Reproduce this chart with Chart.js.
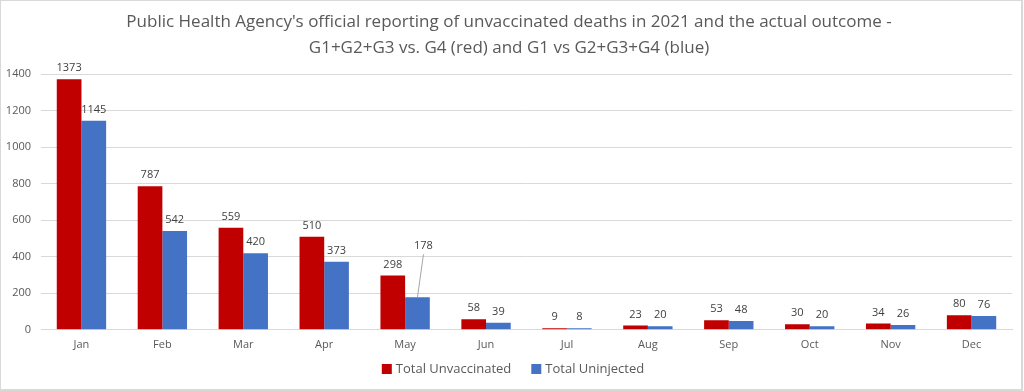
<!DOCTYPE html>
<html>
<head>
<meta charset="utf-8">
<script src="https://cdn.jsdelivr.net/npm/chart.js@4"></script>
<style>
  html, body { margin: 0; padding: 0; background: #fff; }
  #wrap { position: relative; width: 1024px; height: 391px; }
  canvas { display: block; }
</style>
</head>
<body>
<div id="wrap"><canvas id="c" width="1024" height="391"></canvas></div>
<script>
const months = ["Jan","Feb","Mar","Apr","May","Jun","Jul","Aug","Sep","Oct","Nov","Dec"];
const unvaccinated = [1373, 787, 559, 510, 298, 58, 9, 23, 53, 30, 34, 80];
const uninjected = [1145, 542, 420, 373, 178, 39, 8, 20, 48, 20, 26, 76];
const yTicks = [0, 200, 400, 600, 800, 1000, 1200, 1400];
const titleLines = [
  "Public Health Agency's official reporting of unvaccinated deaths in 2021 and the actual outcome -",
  "G1+G2+G3 vs. G4 (red) and G1 vs G2+G3+G4 (blue)"
];

const FONT = "'Open Sans', 'Liberation Sans', sans-serif";

const frame = {
  id: 'frame',
  afterDraw(chart) {
    const ctx = chart.ctx;
    ctx.save();
    ctx.strokeStyle = '#d9d9d9';
    ctx.lineWidth = 2;
    ctx.strokeRect(0, 0, 1022, 390);
    ctx.restore();
  }
};

const bottomLegend = {
  id: 'bottomLegend',
  afterDraw(chart, args, opts) {
    const ctx = chart.ctx;
    ctx.save();
    ctx.font = '13px ' + FONT;
    ctx.textBaseline = 'middle';
    ctx.textAlign = 'left';
    const items = chart.data.datasets.map(ds => ({ text: ds.label, color: ds.backgroundColor,
      w: 10 + 4 + ctx.measureText(ds.label).width }));
    const gap = 20;
    const total = items.reduce((s, it) => s + it.w, 0) + gap * (items.length - 1);
    let x = opts.centerX - total / 2;
    const y = opts.y;
    items.forEach(it => {
      ctx.fillStyle = it.color;
      ctx.fillRect(x, y - 5, 10, 10);
      ctx.fillStyle = '#595959';
      ctx.fillText(it.text, x + 14, y + 0.5);
      x += it.w + gap;
    });
    ctx.restore();
  }
};

const labelsPlugin = {
  id: 'valueLabels',
  afterDatasetsDraw(chart, args, opts) {
    const ctx = chart.ctx;
    ctx.save();
    ctx.font = '11px ' + FONT;
    ctx.fillStyle = '#404040';
    ctx.textAlign = 'center';
    ctx.textBaseline = 'middle';
    chart.data.datasets.forEach((ds, di) => {
      const meta = chart.getDatasetMeta(di);
      meta.data.forEach((el, i) => {
        const key = di + ':' + i;
        const off = (opts.offsets && opts.offsets[key]) || null;
        let x = el.x, y = el.y - 11;
        if (off) {
          x += off.dx; y += off.dy;
          ctx.strokeStyle = '#a6a6a6';
          ctx.lineWidth = 1;
          ctx.beginPath();
          ctx.moveTo(x, y + 8);
          ctx.lineTo(el.x, el.y);
          ctx.stroke();
        }
        ctx.fillText(String(ds.data[i]), x, y);
      });
    });
    ctx.restore();
  }
};

new Chart(document.getElementById('c'), {
  type: 'bar',
  data: {
    labels: months,
    datasets: [
      { label: 'Total Unvaccinated', data: unvaccinated, backgroundColor: '#c00000',
        categoryPercentage: 0.61, barPercentage: 1.0 },
      { label: 'Total Uninjected', data: uninjected, backgroundColor: '#4472c4',
        categoryPercentage: 0.61, barPercentage: 1.0 }
    ]
  },
  options: {
    responsive: false,
    animation: false,
    layout: { padding: { left: 6, right: 12, top: 4, bottom: 32 } },
    plugins: {
      title: {
        display: true,
        text: titleLines,
        color: '#595959',
        font: { family: FONT, size: 17, weight: 'normal', lineHeight: 1.48 },
        padding: { top: 6, bottom: 14 }
      },
      legend: { display: false },
      bottomLegend: { centerX: 513, y: 369 },
      tooltip: { enabled: false },
      valueLabels: { offsets: { '1:4': { dx: 6, dy: -40 } } }
    },
    scales: {
      x: {
        grid: { display: false, drawTicks: false },
        border: { display: true, color: '#d9d9d9', width: 1 },
        ticks: { color: '#595959', font: { family: FONT, size: 11 }, padding: 8 }
      },
      y: {
        min: 0, max: 1400,
        afterBuildTicks(axis) { axis.ticks = yTicks.map(v => ({ value: v })); },
        afterFit(axis) { axis.width = 35; },
        grid: { color: '#d9d9d9', drawTicks: false },
        border: { display: false },
        ticks: { color: '#595959', font: { family: FONT, size: 11 }, padding: 10,
                 callback: (v) => String(v) }
      }
    }
  },
  plugins: [labelsPlugin, bottomLegend, frame]
});
</script>
</body>
</html>
